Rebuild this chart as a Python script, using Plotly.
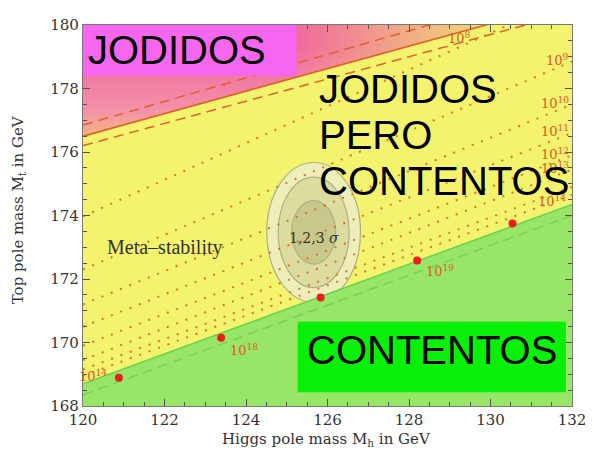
import plotly.graph_objects as go

# ---------------- data ----------------
mh_lim = [120, 132]          # Higgs pole mass axis (GeV)
mt_lim = [168, 180]          # top pole mass axis (GeV)
edge_mh = [120, 132]         # Mh at which boundary values below are given

# boundary lines: Mt at Mh=120 and Mh=132
stab_solid = [168.7, 174.35]
stab_dash = [168.35, 174.0]
instab_solid = [176.5, 180.75]
instab_dash_hi = [176.85, 181.3]
instab_dash_lo = [176.2, 180.4]

# dotted instability-scale contours: Mt at Mh=120 and Mh=132
contour_left = [173.97, 172.3, 171.2, 170.5, 169.9, 169.45, 169.15, 168.95]
contour_right = [180.9, 178.85, 177.5, 176.6, 175.9, 175.45, 174.9, 174.65]

# red points on the stability line
dot_mh = [120.88, 123.39, 125.83, 128.2, 130.54]
dot_mt = [168.89, 170.15, 171.42, 172.58, 173.75]

# scale labels
scale_text = ["10<sup>8</sup>", "10<sup>9</sup>", "10<sup>10</sup>", "10<sup>11</sup>",
              "10<sup>12</sup>", "10<sup>13</sup>", "10<sup>14</sup>",
              "10<sup>14</sup>", "10<sup>18</sup>", "10<sup>19</sup>"]
scale_mh = [129.25, 131.98, 131.98, 131.98, 131.98, 131.98, 131.9, 120.25, 123.95, 128.75]
scale_mt = [179.6, 178.9, 177.55, 176.65, 175.95, 175.5, 174.45, 168.95, 169.75, 172.25]
scale_anchor = ["center", "right", "right", "right", "right", "right", "right", "center", "center", "center"]

# 1,2,3 sigma ellipses
ell_center_mh = 125.66
ell_center_mt = 173.47
ell_half_mh = [1.15, 0.87, 0.54]
ell_half_mt = [2.2, 1.74, 1.0]
ell_fill = ["#eeeeba", "#dcdc9e", "#c8c88a"]

# ---------------- figure ----------------
fig = go.Figure()

RED = "#e0602c"
DOTC = "#d5762e"
GREENL = "#6fd24e"

# green (stability) region
fig.add_trace(go.Scatter(
    x=[edge_mh[0], edge_mh[1], edge_mh[1], edge_mh[0]],
    y=[stab_solid[0], stab_solid[1], mt_lim[0], mt_lim[0]],
    fill="toself", fillcolor="#97e668", line=dict(width=0),
    mode="lines", hoverinfo="skip", showlegend=False))

# instability region (pink gradient)
top_y = mt_lim[1] + 1.5
fig.add_trace(go.Scatter(
    x=[edge_mh[0], edge_mh[1], edge_mh[1], edge_mh[0]],
    y=[instab_solid[0], instab_solid[1], top_y, top_y],
    fill="toself", line=dict(width=0), mode="lines",
    fillgradient=dict(type="vertical", start=176.3, stop=179.3,
                      colorscale=[[0, "#f7c274"], [0.35, "#f392a8"], [1, "#f0649e"]]),
    hoverinfo="skip", showlegend=False))
fig.add_trace(go.Scatter(
    x=[edge_mh[0], edge_mh[1], edge_mh[1], edge_mh[0]],
    y=[instab_solid[0], instab_solid[1], top_y, top_y],
    fill="toself", line=dict(width=0), mode="lines",
    fillgradient=dict(type="horizontal", start=125.0, stop=130.5,
                      colorscale=[[0, "rgba(243,243,110,0)"], [1, "rgba(243,243,110,0.95)"]]),
    hoverinfo="skip", showlegend=False))

# ellipses
shapes = []
for hw, hh, fc in zip(ell_half_mh, ell_half_mt, ell_fill):
    shapes.append(dict(type="circle", xref="x", yref="y", layer="below",
                       x0=ell_center_mh - hw, x1=ell_center_mh + hw,
                       y0=ell_center_mt - hh, y1=ell_center_mt + hh,
                       fillcolor=fc, line=dict(color="#aeb084", width=1.2)))

# dotted contours
for l, r in zip(contour_left, contour_right):
    fig.add_trace(go.Scatter(x=edge_mh, y=[l, r], mode="lines",
                             line=dict(color=DOTC, width=2, dash="2px,8px"),
                             hoverinfo="skip", showlegend=False))

# boundary lines
fig.add_trace(go.Scatter(x=edge_mh, y=stab_dash, mode="lines",
                         line=dict(color=GREENL, width=1.4, dash="10px,6px"), showlegend=False))
fig.add_trace(go.Scatter(x=edge_mh, y=stab_solid, mode="lines",
                         line=dict(color=GREENL, width=1.6), showlegend=False))
fig.add_trace(go.Scatter(x=edge_mh, y=instab_dash_hi, mode="lines",
                         line=dict(color=RED, width=1.5, dash="10px,6px"), showlegend=False))
fig.add_trace(go.Scatter(x=edge_mh, y=instab_dash_lo, mode="lines",
                         line=dict(color=RED, width=1.5, dash="10px,6px"), showlegend=False))
fig.add_trace(go.Scatter(x=edge_mh, y=instab_solid, mode="lines",
                         line=dict(color=RED, width=1.6), showlegend=False))

# red points
fig.add_trace(go.Scatter(x=dot_mh, y=dot_mt, mode="markers",
                         marker=dict(color="#ee1c1c", size=8, line=dict(width=0)),
                         showlegend=False))

# label boxes
shapes.append(dict(type="rect", xref="x", yref="y", layer="above",
                   x0=120, x1=125.24, y0=178.4, y1=180,
                   fillcolor="#f766ef", line=dict(width=0)))
shapes.append(dict(type="rect", xref="x", yref="y", layer="above",
                   x0=125.27, x1=131.85, y0=168.43, y1=170.65,
                   fillcolor="#08f008", line=dict(width=0)))

annotations = []
for t, xm, ym, xa in zip(scale_text, scale_mh, scale_mt, scale_anchor):
    annotations.append(dict(x=xm, y=ym, xref="x", yref="y", text=t, showarrow=False,
                            xanchor=xa, yanchor="middle",
                            font=dict(family="DejaVu Serif", size=13, color="#e05a2a")))

big = dict(family="Liberation Sans", size=40, color="black")
annotations += [
    dict(x=0.0, y=179.2, xref="paper", yref="y", text="JODIDOS", showarrow=False,
         xanchor="left", yanchor="middle", xshift=3, font=big),
    dict(x=125.75, y=178.0, xref="x", yref="y", text="JODIDOS", showarrow=False,
         xanchor="left", yanchor="middle", font=big),
    dict(x=125.75, y=176.55, xref="x", yref="y", text="PERO", showarrow=False,
         xanchor="left", yanchor="middle", font=big),
    dict(x=125.75, y=175.1, xref="x", yref="y", text="CONTENTOS", showarrow=False,
         xanchor="left", yanchor="middle", font=big),
    dict(x=128.56, y=169.75, xref="x", yref="y", text="CONTENTOS", showarrow=False,
         xanchor="center", yanchor="middle", font=big),
    dict(x=122.0, y=173.0, xref="x", yref="y", text="Meta\u2013stability", showarrow=False,
         xanchor="center", yanchor="middle",
         font=dict(family="Liberation Serif", size=20, color="#333")),
    dict(x=ell_center_mh, y=173.3, xref="x", yref="y", text="1,2,3 <i>\u03c3</i>", showarrow=False,
         xanchor="center", yanchor="middle",
         font=dict(family="DejaVu Serif", size=14, color="#333")),
    dict(x=0.498, y=-0.087, xref="paper", yref="paper",
         text="Higgs pole mass M<sub>h</sub> in GeV", showarrow=False,
         xanchor="center", yanchor="middle",
         font=dict(family="DejaVu Serif", size=15, color="#333")),
    dict(x=-0.132, y=0.515, xref="paper", yref="paper",
         text="Top pole mass M<sub>t</sub> in GeV", showarrow=False, textangle=-90,
         xanchor="center", yanchor="middle",
         font=dict(family="DejaVu Serif", size=15, color="#333")),
]

axis_common = dict(showline=True, linecolor="#777", linewidth=1.2, mirror="allticks",
                   ticks="inside", ticklen=7, tickcolor="#555", tickwidth=1,
                   showgrid=False, zeroline=False, dtick=2,
                   minor=dict(ticks="inside", ticklen=4, dtick=0.5, tickcolor="#555", showgrid=False),
                   tickfont=dict(family="DejaVu Serif", size=15, color="#333"))

fig.update_xaxes(range=mh_lim, tick0=120, **axis_common)
fig.update_yaxes(range=mt_lim, tick0=168, **axis_common)

# page body has an 8px margin, so the figure is shrunk by 8px to fit the window
fig.update_layout(width=586, height=449, autosize=False,
                  margin=dict(l=75, r=19, t=8, b=51),
                  plot_bgcolor="#f3f36e", paper_bgcolor="white",
                  shapes=shapes, annotations=annotations, showlegend=False)

fig.write_html("out.html")
